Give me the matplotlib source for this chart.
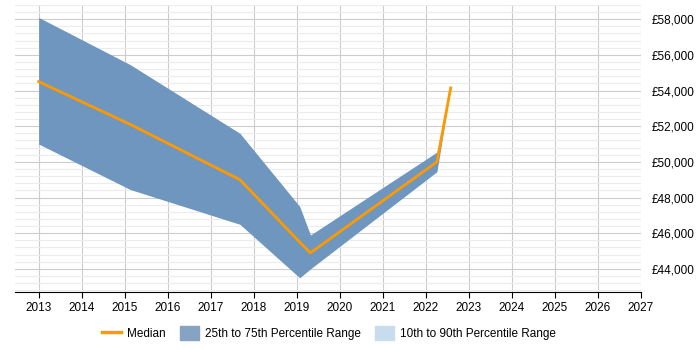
import matplotlib
matplotlib.use("Agg")
import matplotlib.pyplot as plt
from matplotlib.ticker import MultipleLocator, FuncFormatter
from matplotlib.patches import Patch
from matplotlib.lines import Line2D

plt.rcParams['font.family'] = ['Liberation Sans', 'DejaVu Sans']

# data
years = [2013.0, 2015.13, 2017.68, 2019.07, 2019.32, 2022.26, 2022.58]
median = [54500, 52100, 49000, 45500, 44900, 50000, 54150]
p25 = [51000, 48450, 46500, 43500, 44000, 49450, 54150]
p75 = [58100, 55450, 51600, 47500, 45900, 50550, 54150]
tick_years = list(range(2013, 2028))

band_col = '#6f96be'
light_col = '#c9dcee'
med_col = '#ff9900'

fig = plt.figure(figsize=(7, 3.5), dpi=100)
ax = fig.add_axes([0.0214, 0.166, 0.894, 0.820])

ax.fill_between(years, p25, p75, color=band_col, lw=0, zorder=2)
ax.plot(years, median, color=med_col, lw=2, zorder=3)

ax.set_xlim(2012.45, 2027)
ax.set_ylim(42710, 58800)
ax.set_xticks(tick_years)
ax.yaxis.set_major_locator(MultipleLocator(2000))
ax.yaxis.set_minor_locator(MultipleLocator(400))
ax.yaxis.set_major_formatter(FuncFormatter(lambda v, p: '£{:,.0f}'.format(v)))
ax.yaxis.tick_right()

ax.grid(axis='x', color='#cccccc', lw=0.8, zorder=0)
ax.grid(axis='y', which='major', color='#cccccc', lw=0.8, zorder=0)
ax.grid(axis='y', which='minor', color='#ececec', lw=0.8, zorder=0)

for s in ['top', 'left', 'right']:
    ax.spines[s].set_visible(False)
ax.spines['bottom'].set_color('#000000')
ax.tick_params(axis='x', length=4, color='#000000', labelsize=8.5, pad=3)
ax.tick_params(axis='y', which='both', length=0, labelsize=8.5, pad=8)

handles = [Line2D([0], [0], color=med_col, lw=2.5),
           Patch(color='#86a3c4'),
           Patch(color=light_col)]
labels = ['Median', '25th to 75th Percentile Range', '10th to 90th Percentile Range']
fig.legend(handles, labels, loc='center', bbox_to_anchor=(0.47, 0.048), ncol=3,
           frameon=False, fontsize=8.5, handlelength=1.6, handleheight=1.4,
           columnspacing=1.2, handletextpad=0.5)

fig.savefig('out.png', dpi=100)
